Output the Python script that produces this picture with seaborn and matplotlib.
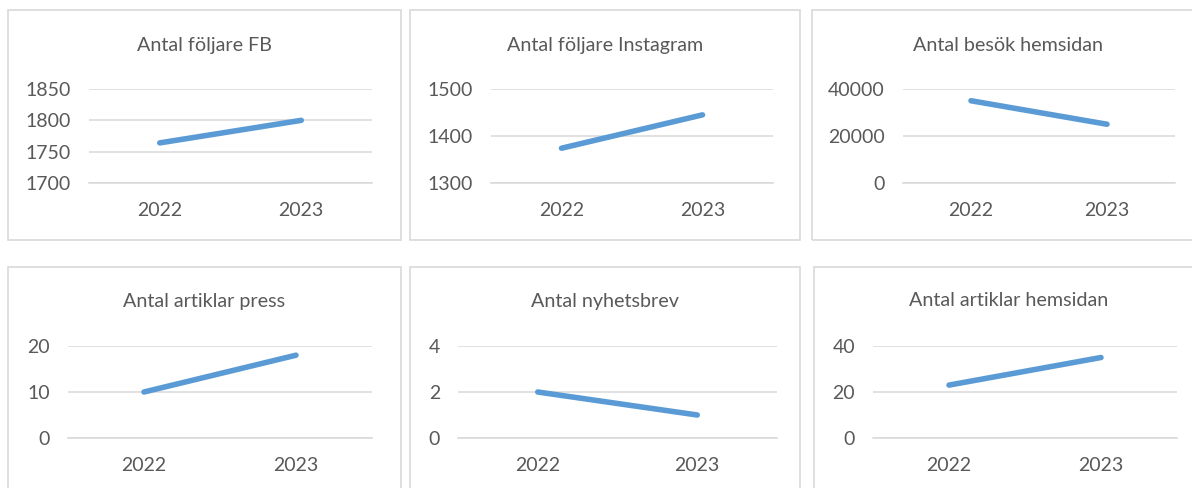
import matplotlib
matplotlib.use("Agg")
import matplotlib.pyplot as plt
from matplotlib.patches import Rectangle
import seaborn as sns

# data -----------------------------------------------------------------------
years = ["2022", "2023"]
foljare_fb = [1764, 1800]
foljare_instagram = [1374, 1445]
besok_hemsidan = [35000, 25000]
artiklar_press = [10, 18]
nyhetsbrev = [2, 1]
artiklar_hemsidan = [23, 35]

titles = ["Antal följare FB", "Antal följare Instagram", "Antal besök hemsidan",
          "Antal artiklar press", "Antal nyhetsbrev", "Antal artiklar hemsidan"]
series = [foljare_fb, foljare_instagram, besok_hemsidan,
          artiklar_press, nyhetsbrev, artiklar_hemsidan]
y_ranges = [(1700, 1850, 50), (1300, 1500, 100), (0, 40000, 20000),
            (0, 20, 10), (0, 4, 2), (0, 40, 20)]

sns.set_theme(style="white")
plt.rcParams["font.family"] = ["Lato", "DejaVu Sans"]

W, H = 1192, 488
GREY = "#D9D9D9"
TXT = "#595959"
BLUE = "#5B9BD5"

fig = plt.figure(figsize=(W / 100, H / 100), dpi=100)

# panel frames (left, top, right, bottom) and plot areas in pixels
frames = [(8, 10, 401, 240), (410, 10, 800, 240), (812, 10, 1204, 240),
          (8, 267, 401, 500), (410, 267, 800, 500), (814, 267, 1204, 500)]
plots = [(89, 89, 372, 183), (491, 89, 773, 183), (903, 89, 1175, 183),
         (68, 346, 372, 438), (458, 346, 777, 438), (873, 346, 1177, 438)]
title_y = [46, 46, 46, 301, 301, 301]

for i in range(6):
    fl, ft, fr, fb = frames[i]
    fig.patches.append(Rectangle((fl / W, 1 - fb / H), (fr - fl) / W, (fb - ft) / H,
                                 transform=fig.transFigure, fill=False,
                                 edgecolor=GREY, linewidth=1.2, zorder=0))
    fig.text((fl + fr) / 2 / W, 1 - title_y[i] / H, titles[i], ha="center", va="center",
             fontsize=14.2, color=TXT)

    x0, y0, x1, y1 = plots[i]
    ax = fig.add_axes([x0 / W, 1 - y1 / H, (x1 - x0) / W, (y1 - y0) / H])
    sns.lineplot(x=years, y=series[i], ax=ax, color=BLUE, linewidth=4.0,
                 solid_capstyle="round")
    lo, hi, step = y_ranges[i]
    ax.set_ylim(lo, hi)
    ax.set_yticks(range(lo, hi + 1, step))
    ax.set_xlim(-0.5, 1.5)
    ax.set_xticks([0, 1])
    ax.set_xticklabels(years)
    ax.set_xticks([-0.5, 0.5, 1.5], minor=True)
    ax.tick_params(axis="x", which="major", length=0, pad=14, labelsize=14, labelcolor=TXT)
    ax.tick_params(axis="x", which="minor", length=5, width=1, color=GREY, direction="out")
    ax.tick_params(axis="y", length=0, pad=13, labelsize=14, labelcolor=TXT)
    ax.grid(axis="y", color=GREY, linewidth=1.1)
    ax.set_axisbelow(True)
    for s in ["top", "right", "left"]:
        ax.spines[s].set_visible(False)
    ax.spines["bottom"].set_color(GREY)
    ax.spines["bottom"].set_linewidth(1.1)
    ax.set_xlabel("")
    ax.set_ylabel("")
    ax.patch.set_alpha(0)

fig.savefig("out.png", dpi=100, facecolor="white")
